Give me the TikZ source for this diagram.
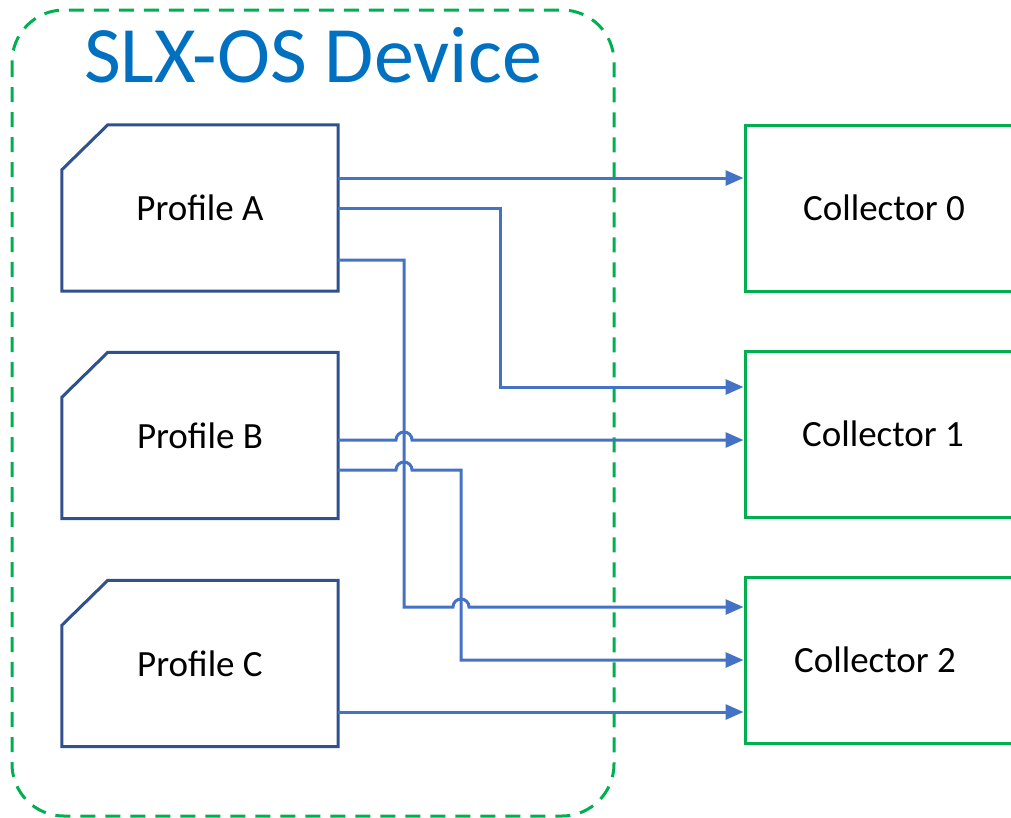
\documentclass[tikz,border=0pt]{standalone}
\usepackage{fontspec}
\setmainfont{Carlito}
\usetikzlibrary{arrows.meta,calc}
\definecolor{linkblue}{HTML}{4472C4}
\definecolor{navy}{HTML}{2F528F}
\definecolor{grn}{HTML}{00B050}
\definecolor{titleblue}{HTML}{0070C0}
\begin{document}
\begin{tikzpicture}[x=1pt,y=-1pt,
  profbox/.style={inner sep=0pt,minimum width=276pt,minimum height=166pt,font=\fontsize{37}{44}\selectfont},
  profline/.style={draw=navy,line width=3pt,line join=miter},
  collbox/.style={draw=grn,line width=3pt,inner sep=0pt,minimum width=280pt,minimum height=166pt,font=\fontsize{37}{44}\selectfont},
  conn/.style={draw=linkblue,line width=3pt,line join=miter},
  arr/.style={conn,-{Triangle[length=18pt,width=15pt]}},
  devbox/.style={draw=grn,line width=3pt,dash pattern=on 15pt off 10pt,rounded corners=52pt}]
\useasboundingbox (0,0) rectangle (1011,817);
% device frame
\draw[devbox] (12,10) rectangle (614,816);
\node[anchor=base,text=titleblue,font=\fontsize{80}{96}\selectfont,inner sep=0pt] (title) at (313,82) {SLX-OS Device};
% profiles
\node[profbox] (pa) at (200,208) {Profile A};
\node[profbox] (pb) at (200,435.5) {Profile B};
\node[profbox] (pc) at (200,663.5) {Profile C};
\foreach \p in {pa,pb,pc}{
  \draw[profline] ($(\p.north west)+(0,45)$) -- ($(\p.north west)+(46,0)$) -- (\p.north east) -- (\p.south east) -- (\p.south west) -- cycle;
}
% collectors
\node[collbox] (c0) at (885,208) {\hspace*{-2pt}Collector 0};
\node[collbox] (c1) at (885,434) {\hspace*{-4pt}Collector 1};
\node[collbox] (c2) at (885,660) {\hspace*{-20pt}Collector 2};
% connectors
\draw[arr] (pa.east |- 0,178) -- (c0.west |- 0,178);
\draw[arr] (pa.east |- 0,208) -- (500,208) -- (500,387) -- (c1.west |- 0,387);
\draw[arr] (pa.east |- 0,260) -- (404,260) -- (404,607) -- (453,607)
   arc[start angle=180,end angle=360,radius=8] -- (c2.west |- 0,607);
\draw[arr] (pb.east |- 0,440) -- (396,440)
   arc[start angle=180,end angle=360,radius=8] -- (c1.west |- 0,440);
\draw[arr] (pb.east |- 0,470) -- (396,470)
   arc[start angle=180,end angle=360,radius=8] -- (461,470) -- (461,660) -- (c2.west |- 0,660);
\draw[arr] (pc.east |- 0,712) -- (c2.west |- 0,712);
\end{tikzpicture}
\end{document}
